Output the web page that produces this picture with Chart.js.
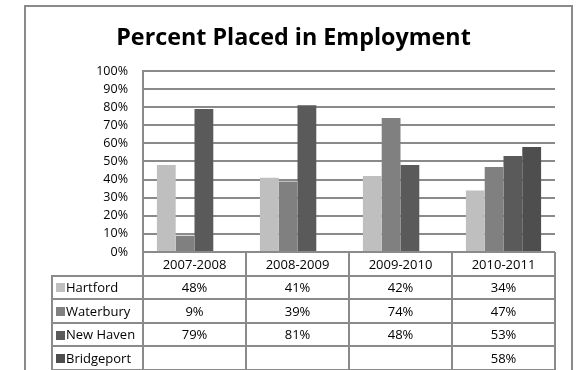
<!DOCTYPE html>
<html>
<head>
<meta charset="utf-8">
<script src="https://cdn.jsdelivr.net/npm/chart.js@4/dist/chart.umd.min.js"></script>
<style>
  html, body { margin: 0; padding: 0; background: #fff; }
  #wrap { width: 576px; height: 370px; }
</style>
</head>
<body>
<div id="wrap"><canvas id="placedChart" width="576" height="370"></canvas></div>
<script>
// data
const years = ['2007-2008', '2008-2009', '2009-2010', '2010-2011'];
const cities = ['Hartford', 'Waterbury', 'New Haven', 'Bridgeport'];
const hartford = [48, 41, 42, 34];
const waterbury = [9, 39, 74, 47];
const newHaven = [79, 81, 48, 53];
const bridgeport = [null, null, null, 58];
const yTicks = [0, 10, 20, 30, 40, 50, 60, 70, 80, 90, 100];

const cityColors = ['#bfbfbf', '#808080', '#5a5a5a', '#4e4e4e'];
const lineGray = '#8a8a8a';
const font = "'Open Sans', sans-serif";

// white background + outer frame
const framePlugin = {
    id: 'frame',
    beforeDraw(chart) {
        const ctx = chart.ctx;
        ctx.save();
        ctx.fillStyle = '#fff';
        ctx.fillRect(0, 0, chart.width, chart.height);
        ctx.strokeStyle = lineGray;
        ctx.lineWidth = 2;
        ctx.strokeRect(25, 6, 547, 400);
        ctx.restore();
    }
};

// data table under the plot, columns follow the x scale
const tablePlugin = {
    id: 'dataTable',
    afterDraw(chart) {
        const ctx = chart.ctx;
        const x = chart.scales.x;
        const area = chart.chartArea;
        const colW = x.getPixelForValue(1) - x.getPixelForValue(0);
        const rowH = 23.6;
        const legendLeft = 52;
        const top = area.bottom;
        const bottom = top + rowH * (cities.length + 1);

        ctx.save();
        ctx.strokeStyle = lineGray;
        ctx.lineWidth = 2;
        ctx.beginPath();
        // vertical lines
        for (let i = 0; i <= years.length; i++) {
            const px = Math.round(area.left + i * colW);
            ctx.moveTo(px, top);
            ctx.lineTo(px, bottom);
        }
        ctx.moveTo(legendLeft, top + rowH);
        ctx.lineTo(legendLeft, bottom);
        // horizontal lines
        for (let r = 1; r <= cities.length + 1; r++) {
            const py = Math.round(top + r * rowH);
            ctx.moveTo(legendLeft - 1, py);
            ctx.lineTo(area.right + 1, py);
        }
        ctx.stroke();

        ctx.fillStyle = '#000';
        ctx.font = '13px ' + font;
        ctx.textBaseline = 'middle';
        ctx.textAlign = 'center';
        years.forEach((y, i) => {
            ctx.fillText(y, x.getPixelForValue(i), top + rowH / 2 + 1);
        });

        chart.data.datasets.forEach((ds, r) => {
            const cy = top + rowH * (r + 1) + rowH / 2 + 1;
            ctx.fillStyle = ds.backgroundColor;
            ctx.fillRect(56, Math.round(cy - 5), 9, 9);
            ctx.fillStyle = '#000';
            ctx.textAlign = 'left';
            ctx.fillText(ds.label, 66, cy);
            ctx.textAlign = 'center';
            ds.data.forEach((v, i) => {
                if (v !== null) ctx.fillText(v + '%', x.getPixelForValue(i), cy);
            });
        });
        ctx.restore();
    }
};

const seriesValues = [hartford, waterbury, newHaven, bridgeport];

new Chart(document.getElementById('placedChart'), {
    type: 'bar',
    data: {
        labels: years,
        datasets: cities.map((c, i) => ({
            label: c,
            data: seriesValues[i],
            backgroundColor: cityColors[i],
            borderWidth: 0,
            barPercentage: 1,
            categoryPercentage: 0.73
        }))
    },
    options: {
        responsive: false,
        animation: false,
        layout: { padding: { left: 32, right: 21, top: 0, bottom: 118 } },
        plugins: {
            legend: { display: false },
            tooltip: { enabled: false },
            title: {
                display: true,
                text: 'Percent Placed in Employment',
                color: '#000',
                font: { family: font, size: 23.3, weight: 'bold', lineHeight: 1.2 },
                padding: { top: 24, bottom: 19 }
            }
        },
        scales: {
            x: { display: false },
            y: {
                min: 0,
                max: 100,
                afterFit(scale) { scale.width = 111; },
                afterBuildTicks(scale) { scale.ticks = yTicks.map(v => ({ value: v })); },
                ticks: {
                    padding: 15,
                    color: '#000',
                    font: { family: font, size: 12.5 },
                    callback: v => v + '%'
                },
                grid: { color: lineGray, lineWidth: 2, drawTicks: false },
                border: { display: true, color: lineGray, width: 2 }
            }
        }
    },
    plugins: [framePlugin, tablePlugin]
});
</script>
</body>
</html>
